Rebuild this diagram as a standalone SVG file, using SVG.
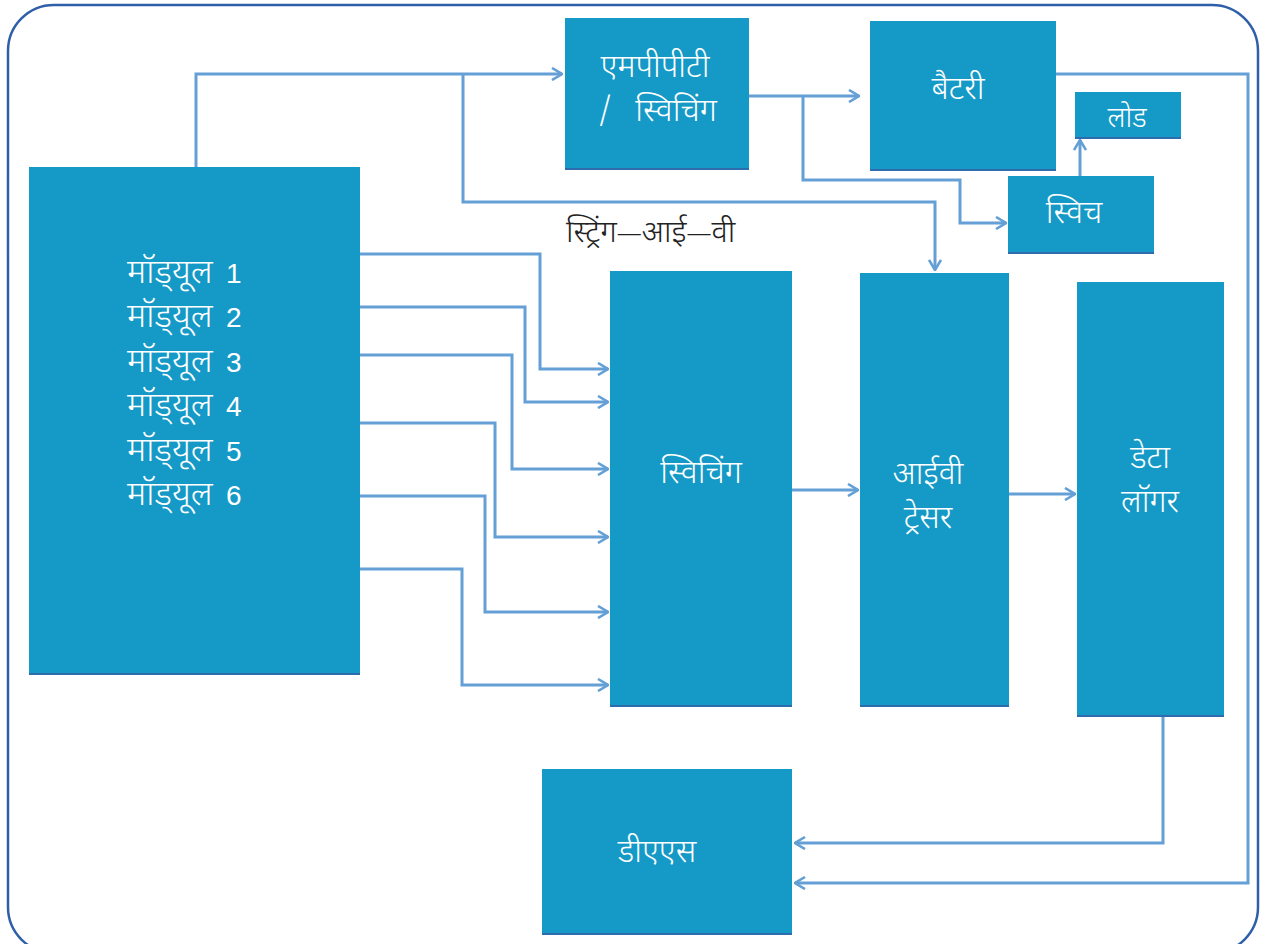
<svg xmlns="http://www.w3.org/2000/svg" width="1262" height="944" viewBox="0 0 1262 944">
  <style>
    .box { fill: #1599c6; }
    .shade { fill: #2e6cae; }
    .lbl { fill: #ffffff; font-family: "Noto Sans Devanagari", "Noto Sans", "Liberation Sans", sans-serif; font-size: 32px; font-weight: 300; text-anchor: middle; }
    .mod { font-size: 34px; text-anchor: start; }
    .num { font-family: "Liberation Sans", Arial, sans-serif; font-size: 28px; font-weight: 400; }
    .cap { fill: #222222; font-family: "Noto Sans Devanagari", "Noto Sans", "Liberation Sans", sans-serif; font-size: 31px; font-weight: 300; }
    .dash { font-size: 25px; }
    .wire { fill: none; stroke: #64a0d6; stroke-width: 3; stroke-linejoin: miter; }
    .arr { marker-end: url(#chev); }
  </style>
  <defs>
    <marker id="chev" viewBox="0 0 12 14" refX="11" refY="7" markerWidth="12" markerHeight="14" markerUnits="userSpaceOnUse" orient="auto">
      <path d="M1,1 L11,7 L1,13" fill="none" stroke="#64a0d6" stroke-width="2.6"/>
    </marker>
  </defs>

  <rect width="1262" height="944" fill="#ffffff"/>
  <!-- outer frame -->
  <rect x="8" y="5" width="1250" height="948" rx="46" ry="46" fill="none" stroke="#2f5fa8" stroke-width="2.5"/>

  <!-- connectors -->
  <g id="connectors">
    <!-- modules to MPPT, with branch to IV tracer -->
    <polyline class="wire arr" points="196,167 196,74 562,74"/>
    <polyline class="wire arr" points="463,74 463,202 935,202 935,270"/>
    <!-- MPPT to battery, with branch to switch -->
    <polyline class="wire arr" points="749,96 859,96"/>
    <polyline class="wire arr" points="803,96 803,180 960,180 960,223 1006,223"/>
    <!-- switch to load -->
    <polyline class="wire arr" points="1080,176 1080,140"/>
    <!-- module strings to switching unit -->
    <polyline class="wire arr" points="360,254 540,254 540,369 608,369"/>
    <polyline class="wire arr" points="360,307 525,307 525,402 608,402"/>
    <polyline class="wire arr" points="360,355 512,355 512,469 608,469"/>
    <polyline class="wire arr" points="360,423 495,423 495,537 608,537"/>
    <polyline class="wire arr" points="360,496 485,496 485,612 608,612"/>
    <polyline class="wire arr" points="360,569 462,569 462,685 608,685"/>
    <!-- switching to IV tracer to data logger -->
    <polyline class="wire arr" points="792,490 858,490"/>
    <polyline class="wire arr" points="1009,494 1075,494"/>
    <!-- data logger and battery to DAS -->
    <polyline class="wire arr" points="1163,715 1163,843 795,843"/>
    <polyline class="wire arr" points="1056,74 1248,74 1248,883 795,883"/>
  </g>

  <g id="modules">
    <rect class="shade" x="29" y="169" width="331" height="506"/>
    <rect class="box" x="29" y="167" width="331" height="506"/>
    <text class="lbl mod" x="127" y="283">मॉड्‌यूल<tspan class="num" x="226">1</tspan></text>
    <text class="lbl mod" x="127" y="327">मॉड्‌यूल<tspan class="num" x="226">2</tspan></text>
    <text class="lbl mod" x="127" y="372">मॉड्‌यूल<tspan class="num" x="226">3</tspan></text>
    <text class="lbl mod" x="127" y="416">मॉड्‌यूल<tspan class="num" x="226">4</tspan></text>
    <text class="lbl mod" x="127" y="461">मॉड्‌यूल<tspan class="num" x="226">5</tspan></text>
    <text class="lbl mod" x="127" y="505">मॉड्‌यूल<tspan class="num" x="226">6</tspan></text>
  </g>

  <g id="mppt">
    <rect class="shade" x="565" y="20" width="184" height="150"/>
    <rect class="box" x="565" y="18" width="184" height="150"/>
    <text class="lbl" x="655" y="77">एमपीपीटी</text>
    <text class="lbl" x="605" y="121">/</text>
    <text class="lbl" x="676" y="121">स्विचिंग</text>
  </g>

  <g id="battery">
    <rect class="shade" x="870" y="23" width="186" height="148"/>
    <rect class="box" x="870" y="21" width="186" height="148"/>
    <text class="lbl" x="958" y="99">बैटरी</text>
  </g>

  <g id="load">
    <rect class="shade" x="1075" y="94" width="106" height="45"/>
    <rect class="box" x="1075" y="92" width="106" height="45"/>
    <text class="lbl" x="1127" y="127" style="font-size:28px">लोड</text>
  </g>

  <g id="switch">
    <rect class="shade" x="1008" y="178" width="146" height="76"/>
    <rect class="box" x="1008" y="176" width="146" height="76"/>
    <text class="lbl" x="1074" y="223">स्विच</text>
  </g>

  <g id="string-iv-label">
    <text class="cap" x="566" y="242">स्ट्रिंग<tspan class="dash">—</tspan>आई<tspan class="dash">—</tspan>वी</text>
  </g>

  <g id="switching">
    <rect class="shade" x="610" y="273" width="182" height="434"/>
    <rect class="box" x="610" y="271" width="182" height="434"/>
    <text class="lbl" x="701" y="483">स्विचिंग</text>
  </g>

  <g id="iv-tracer">
    <rect class="shade" x="860" y="275" width="149" height="432"/>
    <rect class="box" x="860" y="273" width="149" height="432"/>
    <text class="lbl" x="928" y="484">आईवी</text>
    <text class="lbl" x="928" y="528">ट्रेसर</text>
  </g>

  <g id="data-logger">
    <rect class="shade" x="1077" y="284" width="147" height="433"/>
    <rect class="box" x="1077" y="282" width="147" height="433"/>
    <text class="lbl" x="1150" y="468">डेटा</text>
    <text class="lbl" x="1150" y="512">लॉगर</text>
  </g>

  <g id="das">
    <rect class="shade" x="542" y="771" width="250" height="164"/>
    <rect class="box" x="542" y="769" width="250" height="164"/>
    <text class="lbl" x="657" y="862">डीएएस</text>
  </g>
</svg>
